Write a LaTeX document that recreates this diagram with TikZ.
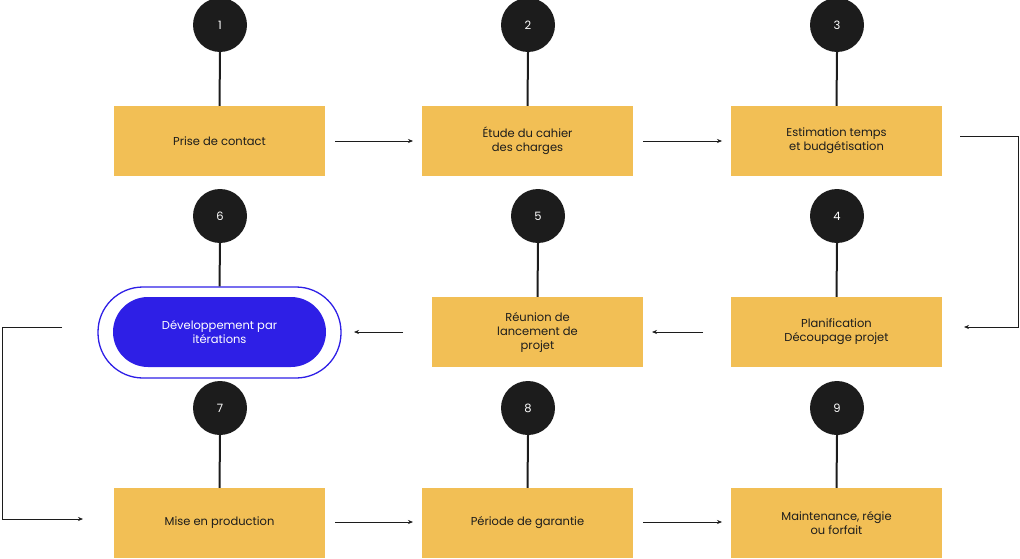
\documentclass[tikz,border=0pt]{standalone}
\usepackage{fontspec}
\setmainfont{Poppins}
\usetikzlibrary{arrows.meta}
\definecolor{ybox}{HTML}{F2BF55}
\definecolor{dk}{HTML}{1C1C1C}
\definecolor{bl}{HTML}{2E1FE6}
\begin{document}
\begin{tikzpicture}[x=1pt,y=-1pt,
 stepbox/.style={fill=ybox,minimum width=211pt,minimum height=70pt,align=center,font=\fontsize{11.5}{14}\selectfont,text=dk},
 num/.style={circle,fill=dk,minimum size=54pt,text=white,font=\fontsize{11.5}{14}\selectfont},
 stem/.style={draw=dk,line width=2pt},
 arr/.style={draw=dk,line width=0.6pt,-{Stealth[length=5pt,width=4pt]}}]
\useasboundingbox (0,0) rectangle (1020,559);
% row 1
\node[stepbox] (b1) at (219.5,141) {Prise de contact};
\node[stepbox] (b2) at (527.5,141) {Étude du cahier\\des charges};
\node[stepbox] (b3) at (836.5,141) {Estimation temps\\et budgétisation};
\node[num] (c1) at (220,25) {1};
\node[num] (c2) at (528,25) {2};
\node[num] (c3) at (837,25) {3};
% row 2
\node[draw=bl,line width=1.3pt,rounded corners=45pt,minimum width=243pt,minimum height=91pt] (p6) at (219.5,332.5) {};
\node[fill=bl,rounded corners=35pt,minimum width=213pt,minimum height=70pt,align=center,text=white,font=\fontsize{11.5}{14}\selectfont] (b6) at (219.5,332) {Développement par\\itérations};
\node[stepbox] (b5) at (537.5,332) {Réunion de\\lancement de\\projet};
\node[stepbox] (b4) at (836.5,332) {Planification\\Découpage projet};
\node[num] (c6) at (220,216) {6};
\node[num] (c5) at (538,216) {5};
\node[num] (c4) at (837,216) {4};
% row 3
\node[stepbox] (b7) at (219.5,523) {Mise en production};
\node[stepbox] (b8) at (527.5,523) {Période de garantie};
\node[stepbox] (b9) at (836.5,523) {Maintenance, régie\\ou forfait};
\node[num] (c7) at (220,408) {7};
\node[num] (c8) at (528,408) {8};
\node[num] (c9) at (837,408) {9};
% stems
\foreach \c/\b in {c1/b1,c2/b2,c3/b3,c5/b5,c4/b4,c7/b7,c8/b8,c9/b9} \draw[stem] (\c.south) -- (\b.north);
\draw[stem] (c6.south) -- (p6.north);
% arrows
\coordinate (a1s) at (335,141); \coordinate (a1e) at (413,141);
\coordinate (a2s) at (643,141); \coordinate (a2e) at (722,141);
\draw[arr] (a1s) -- (a1e); \draw[arr] (a2s) -- (a2e);
\coordinate (r1) at (960,136); \coordinate (r2) at (1018,136); \coordinate (r3) at (1018,327); \coordinate (r4) at (964,327);
\draw[arr] (r1) -- (r2) -- (r3) -- (r4);
\coordinate (m1s) at (703,332); \coordinate (m1e) at (652,332);
\coordinate (m2s) at (403,332); \coordinate (m2e) at (354,332);
\draw[arr] (m1s) -- (m1e); \draw[arr] (m2s) -- (m2e);
\coordinate (l1) at (62,327); \coordinate (l2) at (2,327); \coordinate (l3) at (2,519); \coordinate (l4) at (83,519);
\draw[arr] (l1) -- (l2) -- (l3) -- (l4);
\coordinate (d1s) at (335,522); \coordinate (d1e) at (413,522);
\coordinate (d2s) at (643,522); \coordinate (d2e) at (722,522);
\draw[arr] (d1s) -- (d1e); \draw[arr] (d2s) -- (d2e);
\end{tikzpicture}
\end{document}
